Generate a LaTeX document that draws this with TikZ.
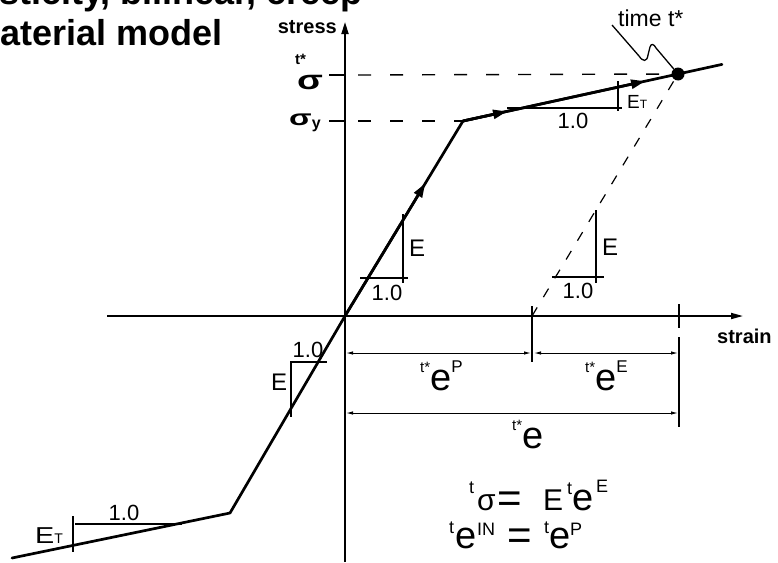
\documentclass[tikz,border=0pt]{standalone}
\usepackage{fontspec}
\setmainfont{Liberation Sans}
\usetikzlibrary{arrows.meta,calc}
\newcommand{\fsz}[1]{\fontsize{#1}{#1}\selectfont}
\newcommand{\ebig}{{\fsz{38}e}}
\newcommand{\up}[2]{\raisebox{#1}{#2}}
\begin{document}
\begin{tikzpicture}[x=1pt,y=-1pt,
  curve/.style={line width=2.7pt, line cap=round, line join=round},
  axisline/.style={line width=1.7pt},
  thinline/.style={line width=1.2pt},
  dashA/.style={line width=1.4pt, dash pattern=on 13pt off 19pt},
  dashB/.style={line width=1.2pt, dash pattern=on 10pt off 12pt},
  lbl/.style={inner sep=0pt, anchor=base west},
  mid/.style={inner sep=0pt},
  numlbl/.style={inner sep=0pt, font=\fsz{22}},
  suplbl/.style={inner sep=0pt, anchor=base west, font=\fsz{18}},
  biglbl/.style={inner sep=0pt, anchor=base west, font=\fsz{38}},
  eqsign/.style={inner sep=0pt, font=\fsz{42}},
  dimline/.style={line width=1pt, {Latex[length=7pt,width=3.5pt]}-{Latex[length=7pt,width=3.5pt]}},
  headA/.style={-{Triangle[length=14pt,width=9pt]}},
  ]
\useasboundingbox (0,0) rectangle (778,562);
\clip (0,0) rectangle (778,562);
% title
\node[lbl, font={\bfseries\fsz{36}}] (title1) at (-53,5) {plasticity, bilinear, creep};
\node[lbl, font={\bfseries\fsz{36}}] (title2) at (0,45) {aterial model};
% key points
\coordinate (O) at (345,316);
\coordinate (K1) at (463,121);
\coordinate (E1) at (722,64.4);
\coordinate (K2) at (230,513);
\coordinate (E2) at (12,558);
\coordinate (D) at (678,74);
\coordinate (U) at (532,316);
\coordinate (ytop) at (345,22);
\coordinate (ybot) at (345,562);
\coordinate (xl) at (107,316);
\coordinate (xr) at (743,316);
% axes
\draw[axisline, -{Triangle[length=12pt,width=7pt]}] (ybot) -- (ytop);
\draw[axisline, -{Triangle[length=12pt,width=6pt]}] (xl) -- (xr);
\node[anchor=base east, inner sep=0pt, font={\bfseries\fsz{20}}] (stress) at (337,33) {stress};
\node[lbl, font={\bfseries\fsz{20}}] (strain) at (717,343) {strain};
% stress levels
\coordinate (s1a) at (329,75); \coordinate (s1b) at (345,75); \coordinate (s1c) at (358,75);
\coordinate (s2a) at (329,121); \coordinate (s2b) at (345,121); \coordinate (s2c) at (358,121);
\draw[thinline] (s1a) -- (s1b);
\draw[thinline] (s2a) -- (s2b);
\draw[dashA] (s1c) -- (D);
\draw[dashA] (s2c) -- (K1);
\node[lbl, font={\bfseries\fsz{15}}] (tsig) at (295,64) {t*};
\node[lbl, font={\bfseries\fsz{27}}] (sig) at (297,89) {\scalebox{1.4}[1]{σ}};
\node[lbl, font=\bfseries] (sigy) at (289,125) {\scalebox{1.5}[1]{\fsz{22}σ}\raisebox{-3pt}{\fsz{16}y}};
% unloading line
\draw[dashB] (U) -- (D);
% curve
\draw[curve] (E2) -- (K2) -- (O) -- (K1) -- (E1);
\draw[curve, headA] (O) -- ($(O)!0.68!(K1)$);
\draw[curve, headA] (K1) -- ($(K1)!0.17!(E1)$);
\draw[curve, headA] (K1) -- ($(K1)!0.703!(E1)$);
\node[circle, fill, inner sep=0pt, minimum size=13pt] (dot) at (D) {};
% time label
\node[lbl, font=\fsz{23}] (time) at (618,27) {time t*};
\coordinate (L0) at (612,25);
\draw[line width=1.3pt] (L0) -- (639,56) .. controls (643,62) and (647,62) .. (648,55) -- (650,47) .. controls (651,43) and (654,44) .. (656,48) -- (dot);
% slope triangle: upper elastic
\draw[thinline] (360,278) -- (408,278);
\draw[thinline] (403,214) -- (403,283);
\node[numlbl] (one1) at (387,293) {1.0};
\node[mid, font=\fsz{24}] (e1) at (417,248) {E};
% slope triangle: unloading
\draw[thinline] (552,277) -- (604,277);
\draw[thinline] (596,210) -- (596,283);
\node[numlbl] (one2) at (578,291) {1.0};
\node[mid, font=\fsz{24}] (e2) at (610,247) {E};
% slope triangle: lower elastic
\draw[thinline] (290,362) -- (327,362);
\draw[thinline] (291,362) -- (291,417);
\node[numlbl] (one3) at (308,350) {1.0};
\node[mid, font=\fsz{24}] (e3) at (279,382) {E};
% slope triangle: upper hardening
\draw[thinline] (507,108) -- (622,108);
\draw[thinline] (618,81) -- (618,111);
\node[numlbl] (one4) at (573,121) {1.0};
\node[lbl] (et1) at (627,108) {\fsz{19}E\fsz{12}T};
% slope triangle: lower hardening
\draw[thinline] (75,524) -- (182,524);
\draw[thinline] (73,516) -- (73,552);
\node[numlbl] (one5) at (124,513) {1.0};
\node[lbl] (et2) at (35,543) {\scalebox{1.25}[1]{\fsz{23}E}\fsz{14}T};
% dimension lines
\draw[thinline] (532,306) -- (532,362);
\draw[thinline] (679,304) -- (679,328);
\draw[thinline] (679,337) -- (679,427);
\draw[dimline] (346,353) -- (531,353);
\draw[dimline] (534,353) -- (678,353);
\draw[dimline] (346,413) -- (678,413);
\node[lbl] (ep) at (420,390) {\up{18pt}{\fsz{15}t*}\ebig\up{18pt}{\fsz{17}P}};
\node[lbl] (ee) at (585,390) {\up{18pt}{\fsz{15}t*}\ebig\up{18pt}{\fsz{17}E}};
\node[lbl] (et) at (512,448) {\up{18pt}{\fsz{15}t*}\ebig};
% equation 1
\node[suplbl] (q1t) at (469,493) {t};
\node[lbl, font=\fsz{30}] (q1s) at (477,510) {σ};
\node[eqsign] (q1eq) at (510,502) {=};
\node[lbl, font=\fsz{30}] (q1E) at (543,510) {E};
\node[suplbl] (q1t2) at (567,494) {t};
\node[biglbl] (q1e) at (572,510) {e};
\node[suplbl] (q1sup) at (596,492) {E};
% equation 2
\node[suplbl] (q2t) at (449,533) {t};
\node[biglbl] (q2e) at (455,548) {e};
\node[suplbl] (q2in) at (477,535) {IN};
\node[eqsign] (q2eq) at (520,539) {=};
\node[suplbl] (q2t2) at (544,533) {t};
\node[biglbl] (q2e2) at (549,548) {e};
\node[suplbl] (q2p) at (570,535) {P};
\end{tikzpicture}
\end{document}
